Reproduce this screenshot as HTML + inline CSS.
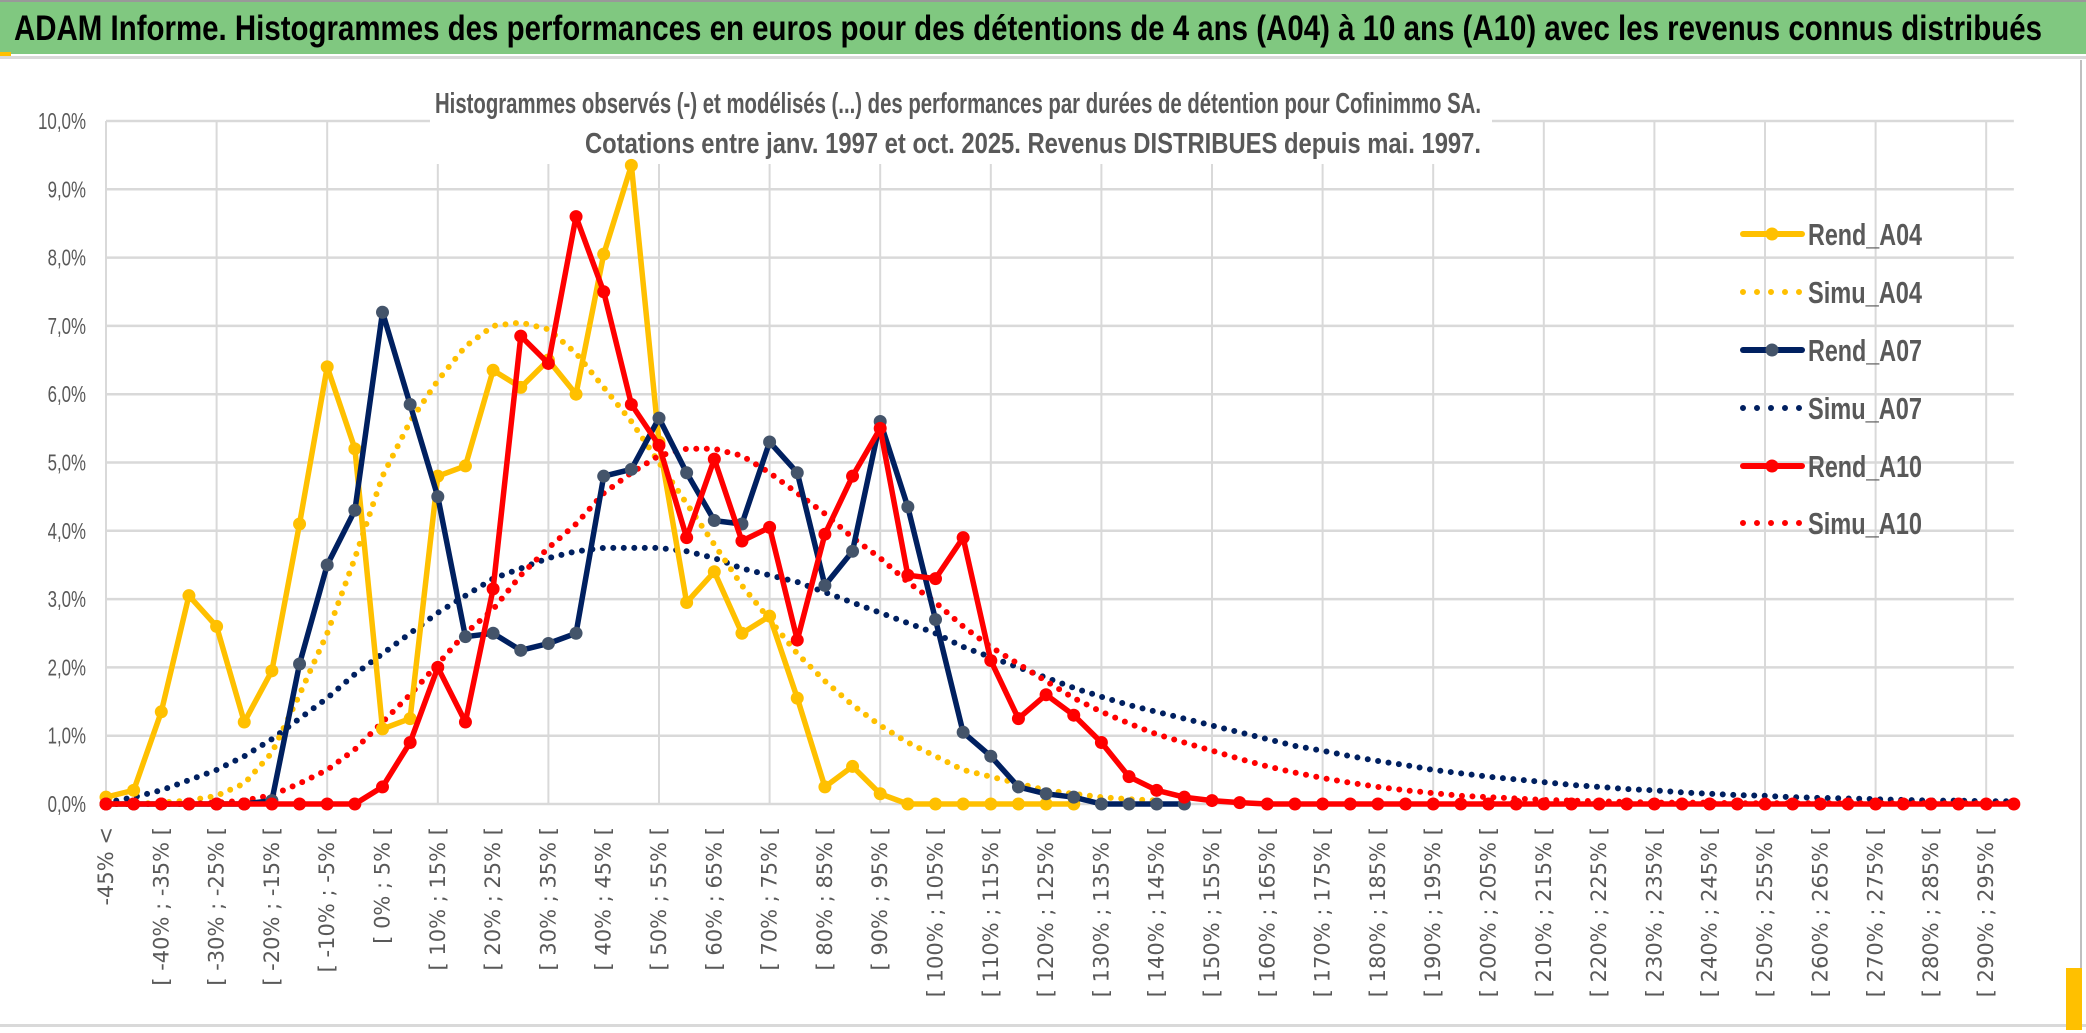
<!DOCTYPE html>
<html><head><meta charset="utf-8">
<style>
html,body{margin:0;padding:0;background:#fff;}
svg{display:block;font-family:"Liberation Sans",sans-serif;}
</style></head>
<body>
<svg id="chart" width="2086" height="1033" viewBox="0 0 2086 1033" xmlns="http://www.w3.org/2000/svg">
<rect x="0" y="0" width="2086" height="1033" fill="#fff"/>
<rect x="0" y="0" width="2086" height="54" fill="#80c880"/>
<rect x="0" y="0" width="2086" height="2" fill="#999"/>
<text x="14" y="40" font-size="35" font-weight="bold" fill="#000" textLength="2028" lengthAdjust="spacingAndGlyphs">ADAM Informe. Histogrammes des performances en euros pour des détentions de 4 ans (A04) à 10 ans (A10) avec les revenus connus distribués</text>
<rect x="0" y="52" width="11" height="4" fill="#ffc000"/>
<rect x="0" y="56" width="2086" height="3" fill="#d9d9d9"/>
<rect x="2080" y="60" width="2" height="966" fill="#bfbfbf"/>
<rect x="0" y="1024" width="2086" height="3" fill="#d9d9d9"/>
<rect x="2066" y="968" width="16" height="62" fill="#ffc000"/>
<g id="grid"></g>
<g id="yaxis"></g>
<g id="xaxis"></g>
<rect x="430" y="68" width="1062" height="96" fill="#fff"/>
<text x="958" y="113" font-size="29" font-weight="bold" fill="#595959" text-anchor="middle" textLength="1046" lengthAdjust="spacingAndGlyphs">Histogrammes observés (-) et modélisés (...) des performances par durées de détention pour Cofinimmo SA.</text>
<text x="1033" y="153" font-size="29" font-weight="bold" fill="#595959" text-anchor="middle" textLength="896" lengthAdjust="spacingAndGlyphs">Cotations entre janv. 1997 et oct. 2025. Revenus DISTRIBUES depuis mai. 1997.</text>
<g id="series"></g>
<g id="legend"></g>
</svg>
<script>
const yTicks = [0,1,2,3,4,5,6,7,8,9,10];
const yTickLabels = ["0,0%","1,0%","2,0%","3,0%","4,0%","5,0%","6,0%","7,0%","8,0%","9,0%","10,0%"];
const categoryLowerBounds = [];
for (let k = -45; k <= 295; k += 5) categoryLowerBounds.push(k);
const rendA04 = [0.1,0.2,1.35,3.05,2.6,1.2,1.95,4.1,6.4,5.2,1.1,1.25,4.8,4.95,6.35,6.1,6.5,6.0,8.05,9.35,5.3,2.95,3.4,2.5,2.75,1.55,0.25,0.55,0.15,0,0,0,0,0,0,0];
const rendA07 = [0,0,0,0,0,0,0.05,2.05,3.5,4.3,7.2,5.85,4.5,2.45,2.5,2.25,2.35,2.5,4.8,4.9,5.65,4.85,4.15,4.1,5.3,4.85,3.2,3.7,5.6,4.35,2.7,1.05,0.7,0.25,0.15,0.1,0,0,0,0];
const rendA10 = [0,0,0,0,0,0,0,0,0,0,0.25,0.9,2.0,1.2,3.15,6.85,6.45,8.6,7.5,5.85,5.25,3.9,5.05,3.85,4.05,2.4,3.95,4.8,5.5,3.35,3.3,3.9,2.1,1.25,1.6,1.3,0.9,0.4,0.2,0.1,0.05,0.02,0,0,0,0,0,0,0,0,0,0,0,0,0,0,0,0,0,0,0,0,0,0,0,0,0,0,0,0];
const simuA04 = [0,0,0.02,0.05,0.12,0.3,0.75,1.6,2.5,3.6,4.8,5.6,6.2,6.7,7.0,7.05,6.95,6.6,6.1,5.6,5.0,4.4,3.8,3.2,2.7,2.2,1.8,1.45,1.15,0.9,0.7,0.5,0.4,0.3,0.2,0.15,0.1,0.07,0.05];
const simuA07 = [0.02,0.1,0.2,0.35,0.5,0.7,0.95,1.25,1.55,1.9,2.2,2.5,2.8,3.05,3.3,3.45,3.6,3.7,3.75,3.75,3.75,3.7,3.6,3.45,3.35,3.25,3.1,2.95,2.8,2.65,2.5,2.3,2.15,2.0,1.85,1.7,1.57,1.45,1.35,1.25,1.15,1.05,0.95,0.85,0.78,0.7,0.63,0.57,0.5,0.45,0.4,0.36,0.32,0.28,0.25,0.22,0.2,0.17,0.15,0.13,0.12,0.1,0.09,0.08,0.07,0.06,0.05,0.05,0.04,0.04];
const simuA10 = [0,0,0,0,0.02,0.05,0.13,0.3,0.5,0.8,1.2,1.6,2.05,2.5,2.85,3.35,3.75,4.1,4.55,4.85,5.1,5.2,5.2,5.1,4.85,4.55,4.25,3.9,3.6,3.25,2.95,2.6,2.3,2.05,1.8,1.55,1.35,1.18,1.02,0.9,0.78,0.66,0.55,0.46,0.38,0.31,0.25,0.2,0.16,0.12,0.1,0.08,0.06,0.05,0.04,0.03,0.02,0.02,0.02,0.01,0.01,0.01,0.01,0.01,0.01,0.01,0.01,0.01,0.01,0.01];
const legendNames = ["Rend_A04","Simu_A04","Rend_A07","Simu_A07","Rend_A10","Simu_A10"];

const NS = "http://www.w3.org/2000/svg";
const X0 = 106, STEP = 27.65, Y0 = 804, YPER = 68.3;
const xScale = i => X0 + i * STEP;
const yScale = v => Y0 - v * YPER;
function mk(tag, attrs, parent) {
  const e = document.createElementNS(NS, tag);
  for (const k in attrs) e.setAttribute(k, attrs[k]);
  parent.appendChild(e);
  return e;
}
function catLabel(i) {
  if (i === 0) return "-45% <";
  const lo = categoryLowerBounds[i - 1];
  return "[ " + lo + "% ; " + (lo + 5) + "% [";
}
const grid = document.getElementById("grid");
const yaxis = document.getElementById("yaxis");
const xaxis = document.getElementById("xaxis");
const nCat = categoryLowerBounds.length + 1;
yTicks.forEach((t, k) => {
  const gl = mk("line", {x1: X0, x2: xScale(nCat - 1), y1: yScale(t), y2: yScale(t), stroke: "#d9d9d9", "stroke-width": 2.5}, grid);
  
  
  const lbl = yTickLabels[k];
  const tl = mk("text", {x: 86, y: yScale(t) + 8, "font-size": 23, fill: "#595959", "text-anchor": "end", textLength: lbl.length * 9.6, lengthAdjust: "spacingAndGlyphs"}, yaxis);
  tl.textContent = lbl;
  
  
});
for (let i = 0; i < nCat; i += 4) {
  const vl = mk("line", {x1: xScale(i), x2: xScale(i), y1: yScale(10), y2: Y0, stroke: "#d9d9d9", "stroke-width": 2}, grid);
  
  
}
for (let i = 0; i < nCat; i += 2) {
  const x = xScale(i) + 7;
  const tl = mk("text", {x: x, y: 827, "font-size": 21, fill: "#595959", "text-anchor": "end", "font-family": "DejaVu Sans, sans-serif", transform: "rotate(-90 " + x + " 827)"}, xaxis);
  tl.textContent = catLabel(i);
  
  
}
const series = document.getElementById("series");
function pts(arr) { return arr.map((v, i) => xScale(i).toFixed(1) + "," + yScale(v).toFixed(1)).join(" "); }
function dotted(arr, color, name) {
  const p = mk("polyline", {points: pts(arr), fill: "none", stroke: color, "stroke-width": 6, "stroke-linecap": "round", "stroke-dasharray": "0 10.5"}, series);
  
  
}
function solid(arr, color, mcolor, name) {
  const g = mk("g", {}, series);
  
  
  mk("polyline", {points: pts(arr), fill: "none", stroke: color, "stroke-width": 5.5, "stroke-linejoin": "round"}, g);
  arr.forEach((v, i) => {
    const c = mk("circle", {cx: xScale(i), cy: yScale(v), r: 6.5, fill: mcolor}, g);
    
    
  });
}
dotted(simuA07, "#002060", "simu-a07-line");
dotted(simuA04, "#ffc000", "simu-a04-line");
dotted(simuA10, "#ff0000", "simu-a10-line");
solid(rendA04, "#ffc000", "#ffc000", "rend-a04-line");
solid(rendA07, "#002060", "#44546a", "rend-a07-line");
solid(rendA10, "#ff0000", "#ff0000", "rend-a10-line");

const legend = document.getElementById("legend");
const legendStyles = [["#ffc000","#ffc000",false],["#ffc000",null,true],["#002060","#44546a",false],["#002060",null,true],["#ff0000","#ff0000",false],["#ff0000",null,true]];
const legendY = [234, 292, 350, 408, 466, 523];
legendNames.forEach((n, k) => {
  const g = mk("g", {}, legend);
  
  
  const y = legendY[k];
  const st = legendStyles[k];
  if (st[2]) {
    mk("line", {x1: 1743, x2: 1800, y1: y, y2: y, stroke: st[0], "stroke-width": 6, "stroke-linecap": "round", "stroke-dasharray": "0 14"}, g);
  } else {
    mk("line", {x1: 1743, x2: 1802, y1: y, y2: y, stroke: st[0], "stroke-width": 6, "stroke-linecap": "round"}, g);
    mk("circle", {cx: 1772, cy: y, r: 6.5, fill: st[1]}, g);
  }
  const t = mk("text", {x: 1808, y: y + 11, "font-size": 31, "font-weight": "bold", fill: "#595959", textLength: 114, lengthAdjust: "spacingAndGlyphs"}, g);
  t.textContent = n;
});
</script>
</body></html>
